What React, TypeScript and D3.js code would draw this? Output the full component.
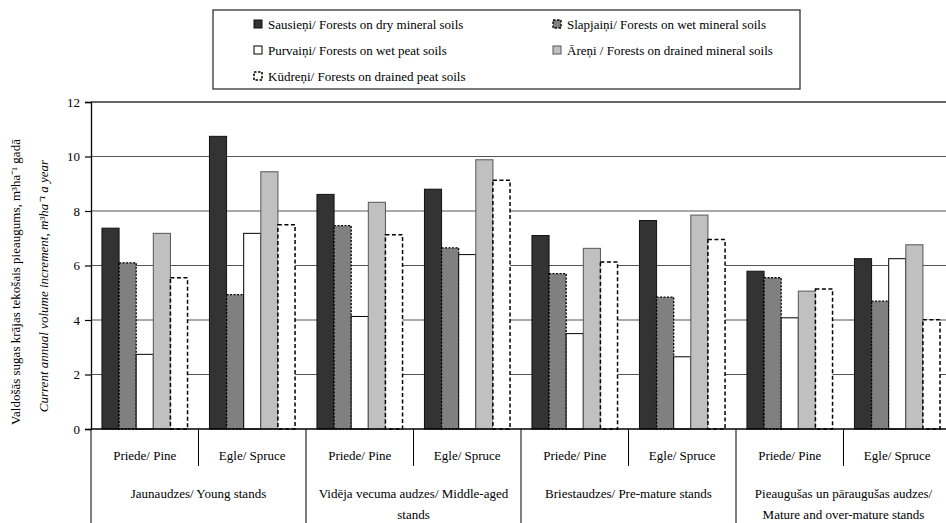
import React, { useEffect, useRef } from "react";
import * as d3 from "d3";

const seriesNames = [
  "Sausieņi/ Forests on dry mineral soils",
  "Slapjaiņi/ Forests on wet mineral soils",
  "Purvaiņi/ Forests on wet peat soils",
  "Āreņi / Forests on drained mineral soils",
  "Kūdreņi/ Forests on drained peat soils",
];
const species = ["Priede/ Pine", "Egle/ Spruce"];
const ageGroups = [
  ["Jaunaudzes/ Young stands"],
  ["Vidēja vecuma audzes/ Middle-aged", "stands"],
  ["Briestaudzes/ Pre-mature stands"],
  ["Pieaugušas un pāraugušas audzes/", "Mature and over-mature stands"],
];
// values per subgroup (age group x species), ordered by series
const sausieni = [7.37, 10.74, 8.61, 8.8, 7.1, 7.65, 5.79, 6.25];
const slapjaini = [6.1, 4.93, 7.46, 6.65, 5.7, 4.84, 5.55, 4.69];
const purvaini = [2.74, 7.18, 4.13, 6.4, 3.5, 2.65, 4.08, 6.25];
const areni = [7.18, 9.44, 8.32, 9.88, 6.63, 7.85, 5.06, 6.76];
const kudreni = [5.55, 7.5, 7.13, 9.13, 6.13, 6.95, 5.14, 4.01];
const yTicks = [0, 2, 4, 6, 8, 10, 12];

const seriesValues = [sausieni, slapjaini, purvaini, areni, kudreni];

const styles = [
  { fill: "#333333", stroke: "#111", dash: "", sw: 1 },
  { fill: "#808080", stroke: "#000", dash: "2,1.5", sw: 1.3 },
  { fill: "#ffffff", stroke: "#000", dash: "", sw: 1 },
  { fill: "#c0c0c0", stroke: "#555", dash: "", sw: 1 },
  { fill: "#ffffff", stroke: "#000", dash: "4,2.5", sw: 1.5 },
];

const FONT = "'Liberation Serif', serif";

export default function App() {
  const ref = useRef<SVGSVGElement>(null);
  useEffect(() => {
    const svg = d3.select(ref.current);
    svg.selectAll("*").remove();
    const left = 91, right = 951, top = 102, bottom = 429;
    const nSub = ageGroups.length * species.length;
    const subIdx = d3.range(nSub);
    const x0 = d3.scaleBand<number>().domain(subIdx).range([left, right]).padding(0);
    const x1 = d3.scaleBand<number>().domain(d3.range(seriesNames.length)).range([0, x0.bandwidth()]).paddingInner(0).paddingOuter(0.64);
    const y = d3.scaleLinear().domain([0, 12]).range([bottom, top]);

    const txt = (sel: any, size = 13) => sel.style("font-family", FONT).style("font-size", size + "px").attr("fill", "#000");

    // gridlines
    svg.append("g").selectAll("line").data(yTicks.filter(t => t > 0)).join("line")
      .attr("x1", left).attr("x2", right)
      .attr("y1", d => y(d)).attr("y2", d => y(d))
      .attr("stroke", d => (d === 12 ? "#333" : "#555"))
      .attr("stroke-width", d => (d === 12 ? 1.5 : 1.2));

    // bars
    const g = svg.append("g");
    seriesValues.forEach((vals, si) => {
      const st = styles[si];
      g.append("g").selectAll("rect").data(vals).join("rect")
        .attr("x", (d, i) => (x0(i) as number) + (x1(si) as number))
        .attr("width", x1.bandwidth())
        .attr("y", d => y(d))
        .attr("height", d => bottom - y(d))
        .attr("fill", st.fill)
        .attr("stroke", st.stroke)
        .attr("stroke-width", st.sw)
        .attr("stroke-dasharray", st.dash || null);
    });

    // y axis
    const yAxis = d3.axisLeft(y).tickValues(yTicks).tickSize(6).tickPadding(5).tickFormat(d3.format("d"));
    const ya = svg.append("g").attr("transform", `translate(${left},0)`).call(yAxis);
    ya.select(".domain").attr("stroke", "#000").attr("stroke-width", 1.3);
    ya.selectAll(".tick line").attr("stroke", "#000").attr("stroke-width", 1.2);
    txt(ya.selectAll(".tick text"));
    ya.attr("font-family", null).attr("font-size", null);

    // x axis line
    svg.append("line").attr("x1", left).attr("x2", right).attr("y1", bottom).attr("y2", bottom)
      .attr("stroke", "#000").attr("stroke-width", 1.3);

    // separators
    const groupW = x0.bandwidth() * species.length;
    const groupStarts = d3.range(ageGroups.length + 1).map(i => left + i * groupW);
    svg.append("g").selectAll("line").data(groupStarts).join("line")
      .attr("x1", d => d).attr("x2", d => d).attr("y1", bottom).attr("y2", 523)
      .attr("stroke", "#000").attr("stroke-width", 1);
    svg.append("g").selectAll("line").data(d3.range(ageGroups.length)).join("line")
      .attr("x1", i => groupStarts[i] + x0.bandwidth()).attr("x2", i => groupStarts[i] + x0.bandwidth())
      .attr("y1", bottom).attr("y2", 466)
      .attr("stroke", "#000").attr("stroke-width", 1);

    // species labels
    txt(svg.append("g").selectAll("text").data(subIdx).join("text")
      .attr("x", i => (x0(i) as number) + x0.bandwidth() / 2)
      .attr("y", 455).attr("dy", "0.35em")
      .attr("text-anchor", "middle")
      .text(i => species[i % species.length]));

    // age group labels
    ageGroups.forEach((lines, gi) => {
      lines.forEach((ln, li) => {
        txt(svg.append("text")
          .attr("x", groupStarts[gi] + groupW / 2)
          .attr("y", (lines.length === 1 ? 493 : 493 + li * 21)).attr("dy", "0.35em")
          .attr("text-anchor", "middle")
          .text(ln));
      });
    });

    // y title
    txt(svg.append("text").attr("transform", "translate(15,282) rotate(-90)")
      .attr("text-anchor", "middle").attr("dy", "0.35em")
      .text("Valdošās sugas krājas tekošais pieaugums, m³ha⁻¹ gadā"));
    txt(svg.append("text").attr("transform", "translate(43,286) rotate(-90)")
      .attr("text-anchor", "middle").attr("dy", "0.35em")
      .style("font-style", "italic")
      .text("Current annual volume increment, m³ha⁻¹ a year"));

    // legend
    const lg = svg.append("g");
    lg.append("rect").attr("x", 213).attr("y", 10).attr("width", 587).attr("height", 79)
      .attr("fill", "#fff").attr("stroke", "#333").attr("stroke-width", 1.3);
    const legendPos = [
      [254, 24], [553, 24], [254, 50], [553, 50], [254, 76],
    ];
    seriesNames.forEach((name, i) => {
      const [lx, ly] = legendPos[i];
      const st = styles[i];
      lg.append("rect").attr("x", lx).attr("y", ly - 4).attr("width", 8).attr("height", 8)
        .attr("fill", st.fill).attr("stroke", st.stroke).attr("stroke-width", st.sw)
        .attr("stroke-dasharray", st.dash ? "2.5,1.5" : null);
      txt(lg.append("text").attr("x", lx + 14).attr("y", ly).attr("dy", "0.35em").text(name));
    });
  }, []);
  return (
    <svg ref={ref} width={946} height={523}
      style={{ position: "fixed", left: 0, top: 0, background: "#fff" }} />
  );
}
